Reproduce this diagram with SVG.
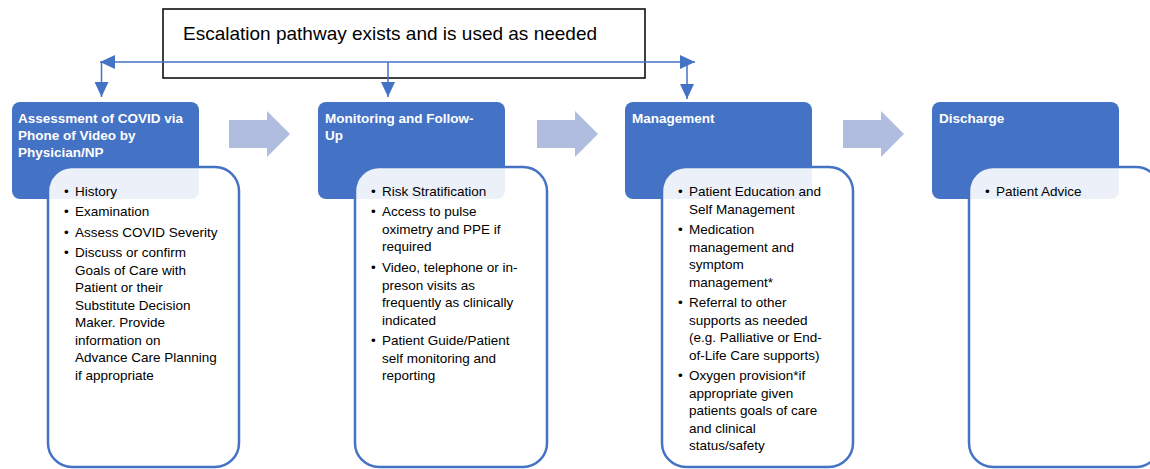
<svg xmlns="http://www.w3.org/2000/svg" width="1150" height="469" viewBox="0 0 1150 469">
<style>
  .hdr{fill:#4472C4;}
  .body{fill:#FFFFFF;fill-opacity:0.9;stroke:#4472C4;stroke-width:2.5;}
  .ht{font-family:"Liberation Sans",Arial,sans-serif;font-size:13.5px;font-weight:bold;fill:#FFFFFF;}
  .bt{font-family:"Liberation Sans",Arial,sans-serif;font-size:13.5px;fill:#000000;}
  .esc{font-family:"Liberation Sans",Arial,sans-serif;font-size:19px;fill:#000000;}
  .conn{stroke:#4472C4;stroke-width:1.5;fill:none;}
  .blk{fill:#B0BDDF;}
</style>
<defs>
  <marker id="ah" markerUnits="userSpaceOnUse" markerWidth="15" markerHeight="14" refX="15" refY="7" orient="auto-start-reverse">
    <path d="M0,0 L15,7 L0,14 z" fill="#4472C4"/>
  </marker>
  <path id="blkArrow" d="M0,0 H38 V-9 L61,14 L38,37 V28 H0 z"/>
</defs>
<rect width="1150" height="469" fill="#FFFFFF"/>

<g id="escalation">
  <rect x="163" y="9" width="482" height="69" fill="#FFFFFF" stroke="#000000" stroke-width="1.5"/>
  <text class="esc" x="183" y="40">Escalation pathway exists and is used as needed</text>
</g>

<g id="connectors">
  <line class="conn" x1="100" y1="62" x2="695" y2="62" marker-start="url(#ah)" marker-end="url(#ah)"/>
  <line class="conn" x1="101.5" y1="62" x2="101.5" y2="97" marker-end="url(#ah)"/>
  <line class="conn" x1="388" y1="62" x2="388" y2="97" marker-end="url(#ah)"/>
  <line class="conn" x1="687" y1="62" x2="687" y2="99" marker-end="url(#ah)"/>
  <use href="#blkArrow" class="blk" x="229" y="120"/>
  <use href="#blkArrow" class="blk" x="537" y="120"/>
  <use href="#blkArrow" class="blk" x="843" y="120"/>
</g>

<g id="assessment">
  <rect class="hdr" x="12" y="102" width="187" height="97" rx="8"/>
  <text class="ht" x="18" y="123">Assessment of COVID via</text>
  <text class="ht" x="18" y="140">Phone of Video by</text>
  <text class="ht" x="18" y="157">Physician/NP</text>
  <rect class="body" x="48" y="167" width="191" height="300" rx="24"/>
  <g class="bt">
    <text x="64" y="196">•</text><text x="75" y="196">History</text>
    <text x="64" y="216">•</text><text x="75" y="216">Examination</text>
    <text x="64" y="237">•</text><text x="75" y="237">Assess COVID Severity</text>
    <text x="64" y="257">•</text><text x="75" y="257">Discuss or confirm</text>
    <text x="75" y="274.5">Goals of Care with</text>
    <text x="75" y="292">Patient or their</text>
    <text x="75" y="309.5">Substitute Decision</text>
    <text x="75" y="327">Maker. Provide</text>
    <text x="75" y="344.5">information on</text>
    <text x="75" y="362">Advance Care Planning</text>
    <text x="75" y="379.5">if appropriate</text>
  </g>
</g>

<g id="monitoring">
  <rect class="hdr" x="318" y="102" width="187" height="97" rx="8"/>
  <text class="ht" x="325" y="123">Monitoring and Follow-</text>
  <text class="ht" x="325" y="140">Up</text>
  <rect class="body" x="355" y="167" width="192" height="300" rx="24"/>
  <g class="bt">
    <text x="371" y="196">•</text><text x="382" y="196">Risk Stratification</text>
    <text x="371" y="216">•</text><text x="382" y="216">Access to pulse</text>
    <text x="382" y="233.5">oximetry and PPE if</text>
    <text x="382" y="251">required</text>
    <text x="371" y="272">•</text><text x="382" y="272">Video, telephone or in-</text>
    <text x="382" y="289.5">preson visits as</text>
    <text x="382" y="307">frequently as clinically</text>
    <text x="382" y="324.5">indicated</text>
    <text x="371" y="345">•</text><text x="382" y="345">Patient Guide/Patient</text>
    <text x="382" y="362.5">self monitoring and</text>
    <text x="382" y="380">reporting</text>
  </g>
</g>

<g id="management">
  <rect class="hdr" x="625" y="102" width="187" height="97" rx="8"/>
  <text class="ht" x="632" y="123">Management</text>
  <rect class="body" x="662" y="167" width="191" height="300" rx="24"/>
  <g class="bt">
    <text x="678" y="196">•</text><text x="689" y="196">Patient Education and</text>
    <text x="689" y="213.5">Self Management</text>
    <text x="678" y="234">•</text><text x="689" y="234">Medication</text>
    <text x="689" y="251.5">management and</text>
    <text x="689" y="269">symptom</text>
    <text x="689" y="286.5">management*</text>
    <text x="678" y="307">•</text><text x="689" y="307">Referral to other</text>
    <text x="689" y="324.5">supports as needed</text>
    <text x="689" y="342">(e.g. Palliative or End-</text>
    <text x="689" y="359.5">of-Life Care supports)</text>
    <text x="678" y="380">•</text><text x="689" y="380">Oxygen provision*if</text>
    <text x="689" y="397.5">appropriate given</text>
    <text x="689" y="415">patients goals of care</text>
    <text x="689" y="432.5">and clinical</text>
    <text x="689" y="450">status/safety</text>
  </g>
</g>

<g id="discharge">
  <rect class="hdr" x="932" y="102" width="187" height="97" rx="8"/>
  <text class="ht" x="939" y="123">Discharge</text>
  <rect class="body" x="969" y="167" width="191" height="300" rx="24"/>
  <g class="bt">
    <text x="985" y="196">•</text><text x="996" y="196">Patient Advice</text>
  </g>
</g>
</svg>
